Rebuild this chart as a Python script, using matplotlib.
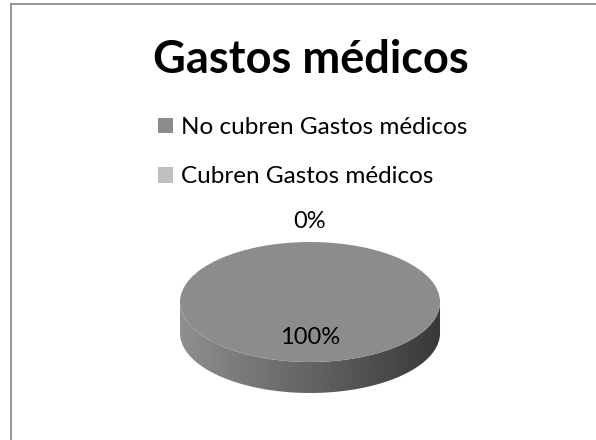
import numpy as np
import matplotlib.pyplot as plt
from matplotlib.patches import Patch, Rectangle, Polygon

# data
labels = ["No cubren Gastos médicos", "Cubren Gastos médicos"]
values = [100, 0]
pct_labels = ["100%", "0%"]
colors = ["#8c8c8c", "#bfbfbf"]

plt.rcParams['font.family'] = ['Lato', 'DejaVu Sans']

fig = plt.figure(figsize=(5.96, 4.40), dpi=100)

# chart border (runs off the right and bottom edge)
fig.patches.append(Rectangle((10.5 / 596, -0.1), 1.2, 1.1 - 4.5 / 440,
                             transform=fig.transFigure, fill=False,
                             edgecolor="#969696", linewidth=1.4))

fig.text(311 / 596, 1 - 73 / 440, "Gastos médicos", ha='center', va='baseline',
         fontsize=32.5, fontweight='bold', color='black')

handles = [Patch(facecolor=c, edgecolor='none') for c in colors]
fig.legend(handles, labels, loc='upper left',
           bbox_to_anchor=(158 / 596, 1 - 117 / 440), frameon=False,
           fontsize=17.5, handlelength=0.62, handleheight=0.62,
           handletextpad=0.33, labelspacing=1.16, borderaxespad=0, borderpad=0)

ax = fig.add_axes([0.2584, 0.0682, 0.5235, 0.4636])
wedges, _ = ax.pie(values, colors=colors, startangle=90, counterclock=False,
                   wedgeprops=dict(linewidth=0))
ax.set_aspect('auto')
ax.axis('off')

# side of the 3d pie with a shading gradient
depth = 31 / 60
t = np.linspace(np.pi, 2 * np.pi, 200)
upper = np.column_stack([np.cos(t), np.sin(t)])
lower = np.column_stack([np.cos(t[::-1]), np.sin(t[::-1]) - depth])
side = Polygon(np.vstack([upper, lower]), closed=True, facecolor='none',
               edgecolor='none')
ax.add_patch(side)
grad = np.linspace(0.56, 0.22, 256).reshape(1, -1)
im = ax.imshow(grad, cmap='gray', vmin=0, vmax=1, aspect='auto',
               extent=(-1, 1, -1 - depth, 0.05), zorder=0)
im.set_clip_path(side)
ax.set_xlim(-1.2, 1.2)
ax.set_ylim(-1.8, 1.6)

for w, v, txt in zip(wedges, values, pct_labels):
    ang = np.deg2rad((w.theta1 + w.theta2) / 2)
    r = 1.35 if v == 0 else 0.6
    ax.text(r * np.cos(ang), r * np.sin(ang), txt, ha='center', va='center',
            fontsize=17, color='black')

fig.savefig("out.png", dpi=100)
